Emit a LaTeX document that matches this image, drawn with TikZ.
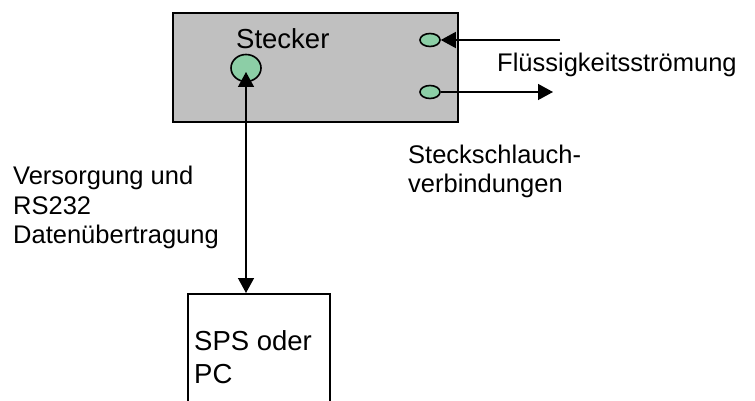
\documentclass[tikz,border=0pt]{standalone}
\usepackage{fontspec}
\setmainfont{Liberation Sans}
\usetikzlibrary{arrows.meta,positioning,calc,shapes.geometric}
\definecolor{housing}{RGB}{192,192,192}
\definecolor{port}{RGB}{140,206,166}
\tikzset{
  housebox/.style={draw, line width=2pt, fill=housing, inner sep=0pt},
  sysbox/.style={draw, line width=1.6pt, fill=white, inner sep=0pt},
  portnode/.style={ellipse, draw, line width=1.6pt, fill=port, inner sep=0pt},
  lbl/.style={inner sep=0pt, align=left, font=\fontsize{25.5}{29.5}\selectfont},
  biglbl/.style={inner sep=0pt, align=left, font=\fontsize{27.5}{33}\selectfont},
  flow/.style={-{Triangle[length=15pt,width=16pt]}, line width=1.4pt}
}
\begin{document}
\begin{tikzpicture}[x=1pt,y=-1pt]
  \useasboundingbox (0,0) rectangle (755,401);
  \clip (0,0) rectangle (755,401);
  % housing with connectors
  \node[housebox, minimum width=285pt, minimum height=109pt, anchor=north west] (house) at (172,12) {};
  \node[biglbl, anchor=base west] (title) at (236,49) {Stecker};
  \node[portnode, minimum width=30pt, minimum height=27pt] (plug) at (246,68) {};
  \node[portnode, minimum width=20pt, minimum height=13pt] (pin) at (430,40) {};
  \node[portnode, minimum width=20pt, minimum height=13pt] (pout) at (430,92) {};
  % fluid flow
  \coordinate (fsrc) at (560,40);
  \coordinate (fsink) at (553,92);
  \draw[flow] (fsrc) -- (pin);
  \draw[flow] (pout) -- (fsink);
  \node[lbl, anchor=base west] (fluid) at (497,72) {Flüssigkeitsströmung};
  \node[lbl, anchor=north west] (hose) at (408,144.5) {Steckschlauch-\\verbindungen};
  % controller
  \node[sysbox, minimum width=142pt, minimum height=150pt, anchor=north west] (sps) at (187,293) {};
  \node[biglbl, anchor=north west] (spstext) at (194,330) {SPS oder\\PC};
  \draw[flow, {Triangle[length=15pt,width=16pt]}-{Triangle[length=15pt,width=16pt]}, shorten <=4pt]
    (plug.center) -- (plug.center |- sps.north);
  \node[lbl, anchor=north west] (supply) at (13,166) {Versorgung und\\RS232\\Datenübertragung};
\end{tikzpicture}
\end{document}
